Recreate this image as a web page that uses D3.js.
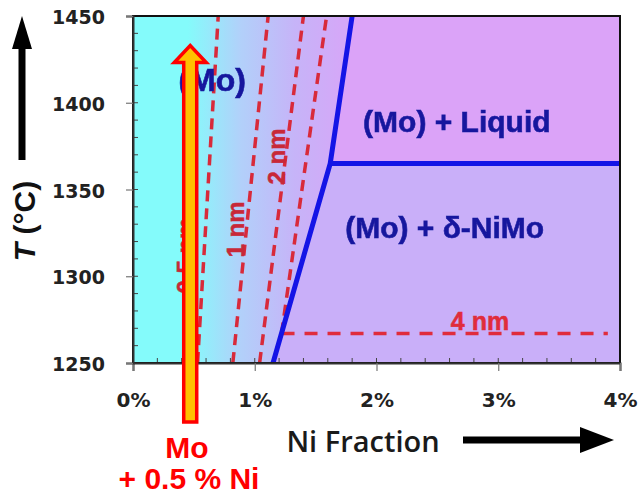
<!DOCTYPE html>
<html>
<head>
<meta charset="utf-8">
<script src="https://cdn.jsdelivr.net/npm/d3@7"></script>
<style>
  body { margin: 0; background: #fff; }
  svg { display: block; }
</style>
</head>
<body>
<div id="chart"></div>
<script>
// ---- data ----
var xTicks = [0, 1, 2, 3, 4];            // Ni fraction, %
var yTicks = [1250, 1300, 1350, 1400, 1450]; // T, degC
var solidus = [[1.15, 1250], [1.62, 1365], [1.80, 1450]];
var eutectic = [[1.62, 1365], [4.0, 1365]];
var dashLines = [
  { label: "0.5 nm", pts: [[0.53, 1250], [0.70, 1450]] },
  { label: "1 nm",   pts: [[0.82, 1250], [1.11, 1450]] },
  { label: "2 nm",   pts: [[1.04, 1250], [1.40, 1450]] },
  { label: "",       pts: [[1.22, 1267], [1.59, 1450]] }
];
var dash4nm = [[1.22, 1267], [3.90, 1267]];
var alloyNi = 0.47, alloyTop = 1433;

var W = 639, H = 495;
var m = { left: 133, right: 19, top: 16, bottom: 132 };

var svg = d3.select('#chart').append('svg')
  .attr('width', W).attr('height', H);

var x = d3.scaleLinear().domain([0, 4]).range([m.left, W - m.right]);
var y = d3.scaleLinear().domain([1250, 1450]).range([H - m.bottom, m.top]);

var defs = svg.append('defs');
var grad = defs.append('linearGradient').attr('id', 'bg')
  .attr('gradientUnits', 'userSpaceOnUse')
  .attr('x1', x(0.45)).attr('y1', 0).attr('x2', x(1.7)).attr('y2', 0);
grad.append('stop').attr('offset', 0).attr('stop-color', '#84fbfb');
grad.append('stop').attr('offset', 0.35).attr('stop-color', '#b2d0fa');
grad.append('stop').attr('offset', 0.7).attr('stop-color', '#c6b4f8');
grad.append('stop').attr('offset', 1).attr('stop-color', '#d4a8f8');
defs.append('filter').attr('id', 'soft')
  .append('feGaussianBlur').attr('stdDeviation', 0.3);

var plot = svg.append('g');
plot.append('rect')
  .attr('x', x(0)).attr('y', y(1450))
  .attr('width', x(4) - x(0)).attr('height', y(1250) - y(1450))
  .attr('fill', 'url(#bg)');

var line = d3.line().x(function(d){ return x(d[0]); }).y(function(d){ return y(d[1]); });

// two-phase regions right of the solidus
plot.append('path')
  .attr('d', line([solidus[1], solidus[2], [4, 1450], [4, 1365]]) + 'Z')
  .attr('fill', '#dba3f8');
plot.append('path')
  .attr('d', line([solidus[0], solidus[1], [4, 1365], [4, 1250]]) + 'Z')
  .attr('fill', '#c9aff9');

// minor ticks inside the frame
var yMinor = d3.range(1260, 1450, 10);
plot.selectAll('.ymin').data(yMinor).enter().append('line')
  .attr('x1', x(0)).attr('x2', x(0) + 5)
  .attr('y1', function(d){ return y(d); }).attr('y2', function(d){ return y(d); })
  .attr('stroke', '#444').attr('stroke-width', 1);
var xMinor = d3.range(0.2, 4, 0.2);
plot.selectAll('.xmin').data(xMinor).enter().append('line')
  .attr('x1', function(d){ return x(d); }).attr('x2', function(d){ return x(d); })
  .attr('y1', y(1250)).attr('y2', y(1250) - 5)
  .attr('stroke', '#444').attr('stroke-width', 1);

// dashed red iso-lines
plot.selectAll('.dash').data(dashLines).enter().append('path')
  .attr('d', function(d){ return line(d.pts); })
  .attr('fill', 'none').attr('stroke', '#d82a3a')
  .attr('stroke-width', 3.5).attr('stroke-dasharray', '11,7');
plot.append('path').attr('d', line(dash4nm))
  .attr('fill', 'none').attr('stroke', '#e02c3c')
  .attr('stroke-width', 3.5).attr('stroke-dasharray', '13,10');

// dashed line labels
var nmLabels = [
  { t: '0.5 nm', ni: 0.50, T: 1290, anchor: 'start' },
  { t: '1 nm',   ni: 0.915, T: 1327, anchor: 'middle' },
  { t: '2 nm',   ni: 1.245, T: 1369, anchor: 'middle' }
];
plot.selectAll('.nm').data(nmLabels).enter().append('text')
  .attr('transform', function(d){ return 'translate(' + x(d.ni) + ',' + y(d.T) + ') rotate(-90)'; })
  .attr('text-anchor', function(d){ return d.anchor; })
  .attr('font-family', 'Liberation Sans, Arial, sans-serif')
  .attr('font-weight', 'bold').attr('font-size', 24)
  .attr('fill', '#c82838').attr('stroke', '#c82838').attr('stroke-width', 0.5)
  .text(function(d){ return d.t; });
plot.append('text')
  .attr('x', x(2.85)).attr('y', y(1269))
  .attr('text-anchor', 'middle')
  .attr('font-family', 'Liberation Sans, Arial, sans-serif')
  .attr('font-weight', 'bold').attr('font-size', 25)
  .attr('fill', '#e02c3c').attr('stroke', '#e02c3c').attr('stroke-width', 0.5)
  .text('4 nm');

// phase boundaries
plot.append('path').attr('d', line(solidus))
  .attr('fill', 'none').attr('stroke', '#1414e6').attr('stroke-width', 5);
plot.append('path').attr('d', line(eutectic))
  .attr('fill', 'none').attr('stroke', '#1414e6').attr('stroke-width', 5);

// phase labels
var phaseLabels = [
  { t: '(Mo)', ni: 0.65, T: 1407, size: 32 },
  { t: '(Mo) + Liquid', ni: 2.66, T: 1383, size: 30 },
  { t: '(Mo) + \u03b4-NiMo', ni: 2.56, T: 1322, size: 30 }
];
plot.selectAll('.phase').data(phaseLabels).enter().append('text')
  .attr('x', function(d){ return x(d.ni); })
  .attr('y', function(d){ return y(d.T); })
  .attr('text-anchor', 'middle')
  .attr('font-family', 'Liberation Sans, Arial, sans-serif')
  .attr('font-weight', 'bold')
  .attr('font-size', function(d){ return d.size; })
  .attr('fill', '#16189e').attr('stroke', '#16189e').attr('stroke-width', 0.6)
  .attr('filter', 'url(#soft)')
  .text(function(d){ return d.t; });

// frame
plot.append('rect')
  .attr('x', x(0)).attr('y', y(1450))
  .attr('width', x(4) - x(0)).attr('height', y(1250) - y(1450))
  .attr('fill', 'none').attr('stroke', '#111').attr('stroke-width', 2);

// axes
var fmtPct = function(d){ return d + '%'; };
var gx = svg.append('g').attr('transform', 'translate(0,' + y(1250) + ')')
  .call(d3.axisBottom(x).tickValues(xTicks).tickFormat(fmtPct).tickSize(8).tickPadding(22));
var gy = svg.append('g').attr('transform', 'translate(' + x(0) + ',0)')
  .call(d3.axisLeft(y).tickValues(yTicks).tickFormat(d3.format('d')).tickSize(7).tickPadding(21));
[gx, gy].forEach(function(g){
  g.select('.domain').attr('stroke', '#333').attr('stroke-width', 2);
  g.selectAll('.tick line').attr('stroke', '#777').attr('stroke-width', 1.2);
  g.selectAll('.tick text')
    .attr('font-family', 'DejaVu Sans, sans-serif')
    .attr('font-weight', 'bold').attr('fill', '#222');
});
gx.selectAll('.tick text').attr('font-size', 20);
gy.selectAll('.tick text').attr('font-size', 19).attr('dy', '0.4em');

// alloy composition arrow (Mo + 0.5 % Ni)
var ax = x(alloyNi), aTop = y(alloyTop), aBot = 422;
var sw = 6.5, hw = 16, hh = 17;
svg.append('path')
  .attr('d', 'M' + (ax - sw) + ',' + aBot + 'L' + (ax - sw) + ',' + (aTop + hh) +
    'L' + (ax - hw) + ',' + (aTop + hh) + 'L' + ax + ',' + aTop +
    'L' + (ax + hw) + ',' + (aTop + hh) + 'L' + (ax + sw) + ',' + (aTop + hh) +
    'L' + (ax + sw) + ',' + aBot + 'Z')
  .attr('fill', '#ffc000').attr('stroke', '#ff0000').attr('stroke-width', 3.5)
  .attr('stroke-linejoin', 'miter');

var alloy = svg.append('text')
  .attr('font-family', 'Liberation Sans, Arial, sans-serif')
  .attr('font-weight', 'bold').attr('font-size', 30)
  .attr('fill', '#ff0000').attr('text-anchor', 'middle');
alloy.append('tspan').attr('x', 187).attr('y', 458).text('Mo');
alloy.append('tspan').attr('x', 189).attr('y', 489).text('+ 0.5 % Ni');

// axis titles with arrows
svg.append('text')
  .attr('x', 363).attr('y', 452)
  .attr('text-anchor', 'middle')
  .attr('font-family', 'Open Sans, sans-serif')
  .attr('font-weight', 600).attr('font-size', 29)
  .attr('fill', '#1a1a1a').text('Ni Fraction');
svg.append('line').attr('x1', 463).attr('x2', 585).attr('y1', 440).attr('y2', 440)
  .attr('stroke', '#000').attr('stroke-width', 7);
svg.append('path').attr('d', 'M580,427L614,440L580,453Z').attr('fill', '#000');

var yt = svg.append('text')
  .attr('transform', 'translate(35,221) rotate(-90)')
  .attr('text-anchor', 'middle')
  .attr('font-family', 'Liberation Sans, Arial, sans-serif')
  .attr('font-weight', 'bold').attr('font-size', 30)
  .attr('fill', '#111');
yt.append('tspan').attr('font-style', 'italic').text('T');
yt.append('tspan').text(' (\u00b0C)');
svg.append('line').attr('x1', 22).attr('x2', 22).attr('y1', 160).attr('y2', 44)
  .attr('stroke', '#000').attr('stroke-width', 7);
svg.append('path').attr('d', 'M12,49L22,16L32,49Z').attr('fill', '#000');
</script>
</body>
</html>
